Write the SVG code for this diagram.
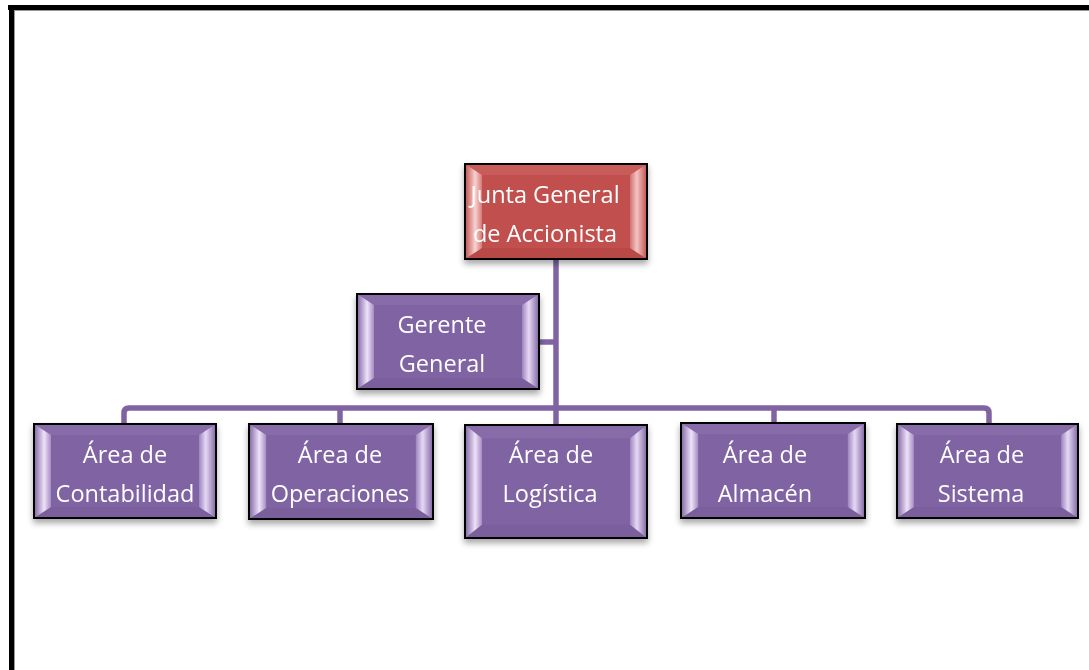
<svg xmlns="http://www.w3.org/2000/svg" width="1089" height="670" viewBox="0 0 1089 670">
<defs>
<style>
.box{stroke:#000;stroke-width:2}
.p{fill:#8064A2}
.r{fill:#C0504D}
.t{font-family:"Open Sans","Liberation Sans",sans-serif;font-size:23.5px;fill:#fff;text-anchor:middle}
.conn{fill:none;stroke:#8064A2;stroke-width:5.5;stroke-linejoin:round}
</style>
<filter id="sh" x="-10%" y="-10%" width="120%" height="130%">
<feDropShadow dx="0" dy="4" stdDeviation="3" flood-color="#000" flood-opacity="0.35"/>
</filter>
<linearGradient id="gpl" x1="0" y1="0" x2="1" y2="0">
<stop offset="0" stop-color="#8064A2"/>
<stop offset="0.6" stop-color="#EEE2F8"/>
<stop offset="1" stop-color="#A58CC4"/>
</linearGradient>
<linearGradient id="gpr" x1="1" y1="0" x2="0" y2="0">
<stop offset="0" stop-color="#8064A2"/>
<stop offset="0.6" stop-color="#E6D8F4"/>
<stop offset="1" stop-color="#9D84BE"/>
</linearGradient>
<linearGradient id="grl" x1="0" y1="0" x2="1" y2="0">
<stop offset="0" stop-color="#C0504D"/>
<stop offset="0.6" stop-color="#F8D2D0"/>
<stop offset="1" stop-color="#D47B78"/>
</linearGradient>
<linearGradient id="grr" x1="1" y1="0" x2="0" y2="0">
<stop offset="0" stop-color="#C0504D"/>
<stop offset="0.6" stop-color="#F4C4C2"/>
<stop offset="1" stop-color="#D0726F"/>
</linearGradient>
<symbol id="bevP" viewBox="0 0 182 94" preserveAspectRatio="none">
<rect width="182" height="94" class="p"/>
<polygon points="0,0 182,0 165,11 17,11" fill="#886CAA"/>
<polygon points="0,94 182,94 165,83 17,83" fill="#7A5E9C"/>
<polygon points="0,0 17,11 17,83 0,94" fill="url(#gpl)"/>
<polygon points="182,0 165,11 165,83 182,94" fill="url(#gpr)"/>
</symbol>
<symbol id="bevR" viewBox="0 0 182 94" preserveAspectRatio="none">
<rect width="182" height="94" class="r"/>
<polygon points="0,0 182,0 165,11 17,11" fill="#C75C59"/>
<polygon points="0,94 182,94 165,83 17,83" fill="#B84A47"/>
<polygon points="0,0 17,11 17,83 0,94" fill="url(#grl)"/>
<polygon points="182,0 165,11 165,83 182,94" fill="url(#grr)"/>
</symbol>
</defs>
<rect width="1089" height="670" fill="#fff"/>
<g id="border">
<rect x="8" y="5" width="1081" height="5" fill="#000"/>
<rect x="14" y="10" width="1075" height="1" fill="#999"/>
<rect x="9" y="5" width="5" height="665" fill="#000"/>
<rect x="14" y="11" width="1" height="659" fill="#999"/>
</g>
<g id="connectors">
<path class="conn" d="M556,259 V408"/>
<path class="conn" d="M539,342 H556"/>
<path class="conn" d="M124,424 V413 Q124,408 129,408 H984 Q989,408 989,413 V424"/>
<path class="conn" d="M340,408 V424"/>
<path class="conn" d="M556,408 V425"/>
<path class="conn" d="M774,408 V423"/>
</g>
<g id="junta" filter="url(#sh)">
<use href="#bevR" x="465" y="164" width="182" height="95"/>
<rect class="box" x="465" y="164" width="182" height="95" fill="none"/>
<text class="t" x="545" y="203">Junta General</text>
<text class="t" x="545" y="242">de Accionista</text>
</g>
<g id="gerente" filter="url(#sh)">
<use href="#bevP" x="357" y="294" width="182" height="95"/>
<rect class="box" x="357" y="294" width="182" height="95" fill="none"/>
<text class="t" x="442" y="333">Gerente</text>
<text class="t" x="442" y="372">General</text>
</g>
<g id="contabilidad" filter="url(#sh)">
<use href="#bevP" x="34" y="424" width="182" height="94"/>
<rect class="box" x="34" y="424" width="182" height="94" fill="none"/>
<text class="t" x="125" y="463">Área de</text>
<text class="t" x="125" y="502">Contabilidad</text>
</g>
<g id="operaciones" filter="url(#sh)">
<use href="#bevP" x="249" y="424" width="184" height="95"/>
<rect class="box" x="249" y="424" width="184" height="95" fill="none"/>
<text class="t" x="340" y="463">Área de</text>
<text class="t" x="340" y="502">Operaciones</text>
</g>
<g id="logistica" filter="url(#sh)">
<use href="#bevP" x="465" y="425" width="182" height="113"/>
<rect class="box" x="465" y="425" width="182" height="113" fill="none"/>
<text class="t" x="551" y="463">Área de</text>
<text class="t" x="550" y="502">Logística</text>
</g>
<g id="almacen" filter="url(#sh)">
<use href="#bevP" x="681" y="423" width="184" height="95"/>
<rect class="box" x="681" y="423" width="184" height="95" fill="none"/>
<text class="t" x="765" y="463">Área de</text>
<text class="t" x="765" y="502">Almacén</text>
</g>
<g id="sistema" filter="url(#sh)">
<use href="#bevP" x="897" y="424" width="181" height="94"/>
<rect class="box" x="897" y="424" width="181" height="94" fill="none"/>
<text class="t" x="982" y="463">Área de</text>
<text class="t" x="981" y="502">Sistema</text>
</g>
</svg>
